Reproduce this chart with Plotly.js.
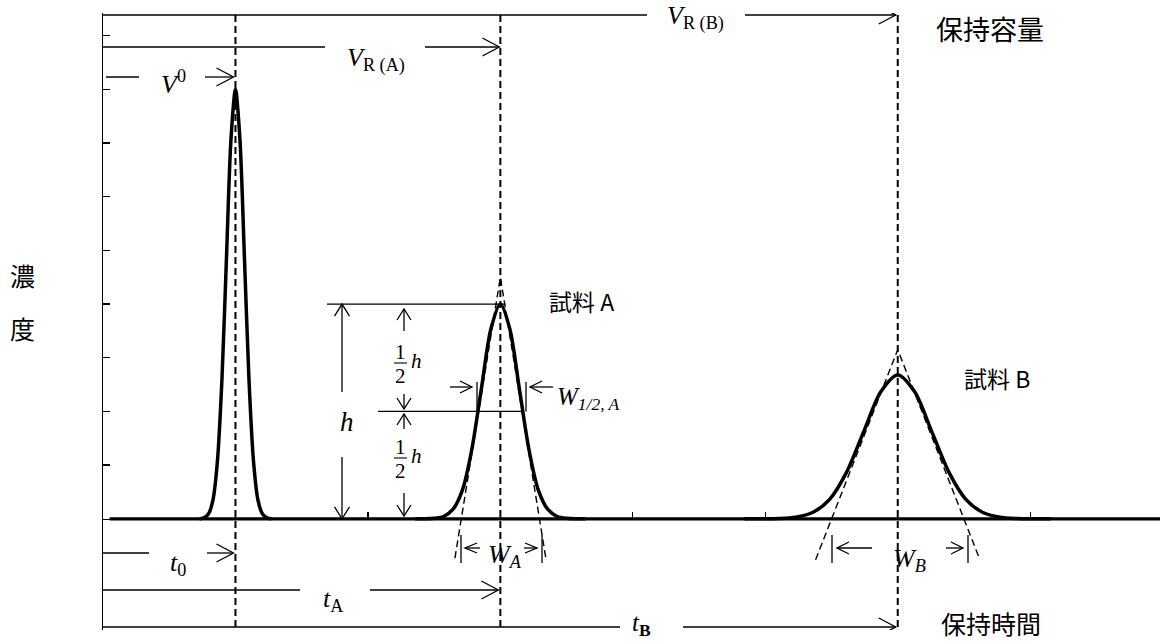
<!DOCTYPE html>
<html><head><meta charset="utf-8">
<script src="https://cdn.plot.ly/plotly-3.0.1.min.js"></script>
<style>html,body{margin:0;padding:0;background:#fff}#chart{width:1166px;height:643px}</style>
</head><body><div id="chart"></div>
<script>
// ---- data ----
const peakCenters = [1, 3, 6];          // t0, tA, tB (x units)
const peakHeights = [8, 4, 2.68];       // V0 peak, sample A, sample B
const baselineX = [0.05, 7.98];
const baselineY = [0, 0];
const peak0X = [0.728,0.762,0.796,0.830,0.864,0.898,0.932,0.966,1.000,1.034,1.068,1.102,1.136,1.170,1.204,1.238,1.272];
const peak0Y = [0,0.02,0.09,0.35,1.08,2.60,4.85,7.06,8.00,7.06,4.85,2.60,1.08,0.35,0.09,0.02,0];
const peakAX = [2.356,2.428,2.499,2.571,2.643,2.714,2.785,2.857,2.928,3.000,3.072,3.143,3.215,3.286,3.357,3.429,3.501,3.572,3.644];
const peakAY = [0,0.001,0.009,0.044,0.18,0.54,1.30,2.43,3.53,4.00,3.53,2.43,1.30,0.54,0.18,0.044,0.009,0.001,0];
const peakBX = [4.843,4.972,5.100,5.229,5.357,5.486,5.614,5.743,5.872,6.000,6.128,6.257,6.386,6.514,6.643,6.771,6.900,7.028,7.157];
const peakBY = [0,0.001,0.006,0.030,0.118,0.363,0.870,1.625,2.365,2.68,2.365,1.625,0.870,0.363,0.118,0.030,0.006,0.001,0];
const tangentAX = [2.657, 3.0, 3.343];
const tangentAY = [-0.73, 4.5, -0.73];
const tangentBX = [5.38, 6.0, 6.62];
const tangentBY = [-0.76, 3.15, -0.76];
const yTickVals = [1,2,3,4,5,6,7,8,9];
const xTickVals = [1,2,3,4,5,6,7];

// ---- geometry helpers ----
const W = 1166, H = 643, ML = 103, MR = 6, MT = 13, MB = 13;
const xRange = [0, 7.98], yRange = [-2.07, 9.42];
const kx = (W - ML - MR) / (xRange[1] - xRange[0]);
const ky = (H - MT - MB) / (yRange[1] - yRange[0]);
const X = px => xRange[0] + (px - ML) / kx;
const Y = py => yRange[1] - (py - MT) / ky;
const PX = px => (px - ML) / (W - ML - MR);
const PY = py => (H - MB - py) / (H - MT - MB);

const BLACK = '#000';
const SERIF = '"Liberation Serif", "Times New Roman", serif';
const CJK = '"Noto Sans CJK JP", "Noto Sans CJK SC", sans-serif';
const DASH = '7px,4px';

const shapes = [];
const annotations = [];
function seg(x0, y0, x1, y1, w = 1.3, dash = 'solid') {
  shapes.push({type:'line', xref:'x', yref:'y', x0, y0, x1, y1, line:{color:BLACK, width:w, dash}});
}
function head(x, y, dir, len, half, w = 1.3) {
  const dx = len / kx, dy = len / ky, hx = half / kx, hy = half / ky;
  let p;
  if (dir === 'r') p = `M${x-dx},${y+hy} L${x},${y} L${x-dx},${y-hy}`;
  if (dir === 'l') p = `M${x+dx},${y+hy} L${x},${y} L${x+dx},${y-hy}`;
  if (dir === 'u') p = `M${x-hx},${y-dy} L${x},${y} L${x+hx},${y-dy}`;
  if (dir === 'd') p = `M${x-hx},${y+dy} L${x},${y} L${x+hx},${y+dy}`;
  shapes.push({type:'path', xref:'x', yref:'y', path:p, fillcolor:'rgba(0,0,0,0)', line:{color:BLACK, width:w}});
}
function txt(text, px, py, size, family, xanchor = 'center', yanchor = 'middle') {
  annotations.push({xref:'paper', yref:'paper', x:PX(px), y:PY(py), text, showarrow:false,
    xanchor, yanchor, font:{family, size, color:BLACK}});
}

const [c0, cA, cB] = peakCenters;
const hA = peakHeights[1];

// dashed retention lines
peakCenters.forEach(c => seg(c, Y(15), c, Y(627), 2, DASH));

// top dimension arrows
seg(0, Y(15), X(647), Y(15)); seg(X(745), Y(15), cB - 2/kx, Y(15)); head(cB - 2/kx, Y(15), 'r', 17, 9);
seg(0, Y(47), X(325), Y(47)); seg(X(425), Y(47), cA - 1/kx, Y(47)); head(cA - 1/kx, Y(47), 'r', 17, 9);
seg(X(106), Y(77), X(139), Y(77)); seg(X(205), Y(77), c0 - 2/kx, Y(77)); head(c0 - 2/kx, Y(77), 'r', 17, 9);
// bottom dimension arrows
seg(0, Y(553), X(149), Y(553)); seg(X(207), Y(553), c0 - 2/kx, Y(553)); head(c0 - 2/kx, Y(553), 'r', 17, 9);
seg(0, Y(590), X(300), Y(590)); seg(X(370), Y(590), cA - 2/kx, Y(590)); head(cA - 2/kx, Y(590), 'r', 17, 9);
seg(0, Y(627), X(620), Y(627)); seg(X(683), Y(627), cB - 2/kx, Y(627)); head(cB - 2/kx, Y(627), 'r', 17, 9);

// peak A height markers
seg(X(327), hA, cA + 5/kx, hA);
seg(X(378), hA/2, X(524), hA/2);
// h arrow
seg(X(342), hA, X(342), Y(392)); head(X(342), hA, 'u', 12, 7.5);
seg(X(342), Y(457), X(342), 0); head(X(342), 0, 'd', 12, 7.5);
// 1/2 h arrows
seg(X(404), Y(309), X(404), Y(331)); head(X(404), Y(309), 'u', 11, 7);
seg(X(404), Y(394), X(404), Y(409)); head(X(404), Y(409), 'd', 11, 7);
seg(X(404), Y(414), X(404), Y(429)); head(X(404), Y(414), 'u', 11, 7);
seg(X(404), Y(493), X(404), Y(516)); head(X(404), Y(516), 'd', 11, 7);
// fraction bars
seg(X(394), Y(363), X(407), Y(363), 1.1);
seg(X(394), Y(458), X(407), Y(458), 1.1);
// W1/2,A
seg(X(450), Y(387), X(472), Y(387)); head(X(472), Y(387), 'r', 12, 6);
seg(X(530), Y(387), X(553), Y(387)); head(X(530), Y(387), 'l', 12, 6);
seg(X(477), Y(382), X(477), hA/2); seg(X(526), Y(382), X(526), hA/2);
// W_A
seg(X(461), Y(535), X(461), Y(563)); seg(X(542), Y(535), X(542), Y(563));
head(X(465), Y(548), 'l', 12, 5); seg(X(465), Y(548), X(480), Y(548));
head(X(537), Y(548), 'r', 12, 5); seg(X(524), Y(548), X(537), Y(548));
// W_B
seg(X(832), Y(535), X(832), Y(563)); seg(X(968), Y(535), X(968), Y(563));
head(X(837), Y(548), 'l', 12, 6); seg(X(837), Y(548), X(872), Y(548));
head(X(963), Y(548), 'r', 12, 6); seg(X(946), Y(548), X(963), Y(548));

// texts
txt('<i>V</i><sub>R (B)</sub>', 695, 18, 26, SERIF);
txt('<i>V</i><sub>R (A)</sub>', 376, 60, 26, SERIF);
txt('<i>V</i><sup>0</sup>', 173, 82, 26, SERIF);
txt('<i>t</i><sub>0</sub>', 178, 564, 26, SERIF);
txt('<i>t</i><sub>A</sub>', 333, 600, 26, SERIF);
txt('<i>t</i><sub><b>B</b></sub>', 641, 624, 25, SERIF);
txt('<i>h</i>', 347, 422, 27, SERIF);
txt('1', 400, 352, 21, SERIF); txt('2', 400, 376, 21, SERIF); txt('<i>h</i>', 416, 361, 21, SERIF);
txt('1', 400, 447, 21, SERIF); txt('2', 400, 471, 21, SERIF); txt('<i>h</i>', 416, 456, 21, SERIF);
txt('<i>W</i><sub><i>1/2, A</i></sub>', 555, 398, 25, SERIF, 'left');
txt('<i>W</i><sub><i>A</i></sub>', 505, 556, 26, SERIF);
txt('<i>W</i><sub><i>B</i></sub>', 909, 560, 26, SERIF);
txt('試料 A', 547, 301, 23, CJK, 'left');
txt('試料 B', 962, 378, 23, CJK, 'left');
txt('保持容量', 934, 29, 27, CJK, 'left');
txt('保持時間', 939, 623, 25, CJK, 'left');
txt('濃', 22, 275, 25, CJK);
txt('度', 22, 328, 25, CJK);

const curveLine = {color:BLACK, width:3.5, shape:'spline', smoothing:0.8};
const traces = [
  {x:baselineX, y:baselineY, mode:'lines', line:{color:BLACK, width:3.2}, hoverinfo:'skip'},
  {x:peak0X, y:peak0Y, mode:'lines', line:curveLine, hoverinfo:'skip'},
  {x:peakAX, y:peakAY, mode:'lines', line:curveLine, hoverinfo:'skip'},
  {x:peakBX, y:peakBY, mode:'lines', line:curveLine, hoverinfo:'skip'},
  {x:tangentAX, y:tangentAY, mode:'lines', line:{color:BLACK, width:1.4, dash:DASH}, hoverinfo:'skip'},
  {x:tangentBX, y:tangentBY, mode:'lines', line:{color:BLACK, width:1.4, dash:DASH}, hoverinfo:'skip'}
];

const layout = {
  width: W, height: H,
  margin: {l:ML, r:MR, t:MT, b:MB, pad:0},
  paper_bgcolor:'#fff', plot_bgcolor:'#fff',
  showlegend:false,
  xaxis: {range:xRange, anchor:'free', position:(0 - yRange[0])/(yRange[1]-yRange[0]),
    showline:true, linecolor:BLACK, linewidth:1.3, ticks:'inside', ticklen:7, tickwidth:1.3, tickcolor:BLACK,
    tickvals:xTickVals, showticklabels:false, showgrid:false, zeroline:false, fixedrange:true},
  yaxis: {range:yRange, showline:true, linecolor:BLACK, linewidth:1.5, ticks:'inside', ticklen:7, tickwidth:1.3,
    tickcolor:BLACK, tickvals:yTickVals, showticklabels:false, showgrid:false, zeroline:false, fixedrange:true},
  shapes, annotations
};
Plotly.newPlot('chart', traces, layout, {displayModeBar:false, staticPlot:true});
</script></body></html>
